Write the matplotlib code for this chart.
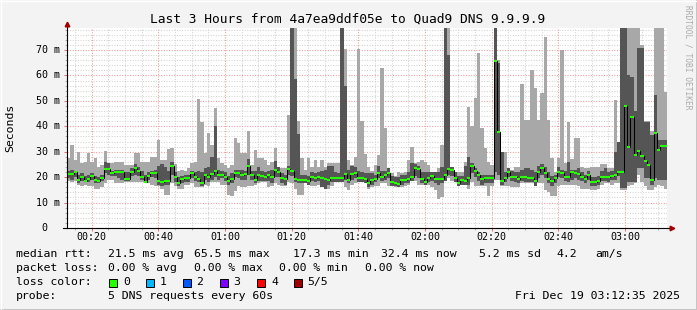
import numpy as np
import matplotlib
matplotlib.use("Agg")
import matplotlib.pyplot as plt
from matplotlib.patches import Rectangle
from matplotlib.lines import Line2D

W, H = 697, 310
start_min = 12 + 35 / 60   # graph starts 00:12:35, one step per minute

# five sorted pings per step (ms): p1 = fastest ... p5 = slowest, p3 = median
ping1 = [
    18.5, 18.0, 18.5, 17.0, 16.5, 17.0, 16.5, 16.5, 15.3, 15.3, 16.0, 17.5, 19.0, 19.0, 17.5, 17.5, 17.5, 18.0, 18.2, 18.2, 18.0, 18.0, 18.0, 17.5, 17.5, 17.0, 16.5, 16.5, 15.5, 13.0,
    13.0, 17.5, 16.5, 15.5, 15.5, 17.0, 17.0, 17.5, 16.0, 16.0, 16.0, 17.0, 16.5, 18.0, 18.0, 18.0, 17.0, 17.0, 13.0, 12.5, 14.5, 16.5, 16.0, 16.0, 16.5, 16.5, 17.0, 17.5, 18.0, 18.0,
    16.0, 16.5, 17.5, 17.0, 16.5, 16.5, 18.0, 17.5, 15.5, 13.0, 13.0, 17.5, 17.5, 16.5, 16.5, 17.0, 17.0, 15.5, 15.5, 16.5, 18.0, 18.0, 18.0, 16.0, 15.0, 17.0, 17.5, 18.0, 18.0, 17.5,
    15.5, 16.0, 16.5, 16.5, 17.5, 17.5, 16.5, 16.5, 16.0, 16.0, 16.0, 16.5, 17.0, 18.5, 18.5, 17.0, 17.0, 17.0, 17.0, 16.0, 15.0, 11.5, 12.0, 18.5, 19.5, 18.5, 18.0, 17.5, 17.5, 17.5,
    15.5, 18.0, 16.5, 16.5, 16.5, 16.5, 12.5, 16.5, 19.0, 19.0, 16.5, 16.5, 16.5, 16.0, 16.0, 16.0, 17.5, 17.5, 17.5, 17.5, 17.5, 17.5, 17.5, 15.0, 14.0, 12.5, 12.5, 16.5, 17.0, 17.0,
    17.0, 17.0, 17.0, 16.5, 15.5, 15.5, 15.5, 15.0, 15.0, 15.5, 17.0, 17.5, 17.5, 17.0, 17.5, 17.5, 15.0, 15.0, 16.5, 17.0, 17.5, 21.0, 18.0, 16.5, 15.0, 15.0, 16.0, 17.0, 16.5, 15.5,
]
ping2 = [
    19.5, 19.0, 20.0, 17.5, 18.5, 18.0, 18.0, 19.0, 17.5, 17.5, 18.5, 21.5, 21.0, 20.5, 20.5, 19.5, 19.0, 18.5, 18.5, 20.5, 21.0, 20.5, 19.0, 17.5, 19.0, 20.0, 19.5, 17.0, 16.5, 17.0,
    17.0, 21.0, 18.0, 16.5, 17.5, 18.0, 18.0, 19.5, 18.5, 18.0, 16.5, 19.0, 18.0, 19.0, 20.0, 19.0, 19.5, 18.5, 17.0, 17.5, 20.0, 19.5, 19.0, 19.0, 21.0, 19.0, 17.5, 18.5, 18.5, 18.5,
    18.5, 17.5, 20.0, 20.0, 17.5, 17.0, 21.0, 20.5, 18.0, 17.5, 17.5, 17.5, 17.0, 18.5, 18.0, 18.5, 16.0, 15.5, 17.0, 18.0, 18.0, 18.0, 18.0, 19.0, 17.5, 19.0, 19.5, 18.0, 18.0, 17.5,
    16.0, 17.0, 18.0, 19.5, 18.5, 19.0, 19.5, 16.5, 16.5, 16.0, 17.0, 17.5, 17.5, 18.5, 20.5, 19.5, 17.5, 17.0, 18.0, 18.5, 17.5, 17.0, 17.5, 18.5, 21.0, 20.5, 18.0, 16.5, 17.0, 17.0,
    17.0, 21.5, 20.0, 18.5, 17.0, 17.5, 17.5, 17.5, 22.0, 21.0, 17.0, 18.0, 20.0, 18.5, 18.0, 17.5, 18.5, 18.0, 18.0, 18.0, 16.5, 19.5, 21.0, 19.5, 17.5, 16.5, 17.5, 20.0, 19.5, 18.5,
    18.0, 19.0, 19.5, 19.0, 18.5, 17.5, 19.0, 16.5, 16.5, 17.0, 18.5, 18.5, 18.0, 19.0, 19.0, 20.5, 15.6, 15.6, 18.0, 18.2, 18.2, 23.5, 23.5, 19.5, 19.5, 16.9, 19.5, 19.0, 19.0, 19.0,
]
median_rtt = [
    21.2, 21.2, 22.1, 18.9, 20.2, 18.6, 19.3, 20.6, 18.9, 18.5, 19.8, 23.2, 23.2, 21.5, 22.1, 22.1, 22.1, 19.3, 19.3, 22.1, 23.5, 22.5, 20.2, 18.2, 20.4, 21.5, 21.5, 18.6, 18.2, 18.4,
    18.5, 24.5, 20.2, 17.6, 19.3, 19.5, 19.5, 21.5, 20.2, 19.3, 17.6, 20.9, 20.2, 21.1, 22.4, 20.9, 20.9, 20.2, 18.5, 19.3, 21.6, 21.5, 20.9, 21.1, 24.5, 20.9, 18.9, 20.9, 20.6, 20.2,
    20.8, 20.2, 22.8, 22.1, 19.5, 19.3, 23.2, 22.4, 19.3, 18.9, 18.9, 18.9, 18.5, 20.2, 19.8, 20.2, 19.5, 19.3, 18.9, 19.8, 19.8, 19.5, 19.8, 21.1, 18.9, 21.1, 21.5, 19.5, 19.8, 19.3,
    17.6, 18.9, 19.3, 21.5, 20.2, 20.9, 21.5, 18.2, 17.6, 17.3, 18.9, 18.9, 19.3, 20.2, 23.7, 23.2, 19.3, 18.2, 19.8, 20.6, 19.3, 19.3, 19.3, 20.9, 23.2, 22.8, 19.8, 17.6, 18.9, 18.5,
    19.8, 24.5, 22.5, 20.9, 19.3, 19.5, 19.8, 19.5, 65.5, 37.9, 18.5, 19.8, 22.1, 20.0, 20.0, 19.3, 20.2, 20.2, 19.8, 19.8, 18.5, 22.1, 23.5, 21.5, 19.3, 18.5, 19.5, 22.1, 21.5, 20.2,
    20.2, 21.9, 21.5, 21.2, 20.2, 19.3, 20.9, 18.0, 18.0, 18.5, 20.2, 20.2, 19.9, 20.6, 20.9, 22.1, 22.1, 48.1, 32.0, 43.8, 28.7, 30.3, 28.5, 26.4, 24.8, 18.9, 37.2, 30.7, 32.4, 32.4,
]
ping4 = [
    22.5, 23.0, 22.5, 21.0, 21.5, 20.5, 21.0, 21.5, 20.5, 20.0, 21.0, 26.0, 25.5, 22.5, 23.0, 23.0, 23.0, 22.0, 22.0, 23.5, 25.0, 24.0, 22.5, 21.0, 22.0, 22.5, 23.0, 24.5, 25.0, 24.0,
    22.5, 26.0, 22.0, 20.0, 20.5, 21.0, 21.0, 22.5, 22.0, 22.5, 22.0, 23.5, 24.0, 28.0, 40.0, 23.0, 22.5, 22.0, 20.5, 21.5, 23.0, 23.0, 23.0, 22.5, 27.0, 22.5, 22.5, 24.0, 22.5, 22.0,
    22.5, 23.0, 26.5, 24.0, 21.5, 21.0, 24.5, 95.0, 58.7, 37.0, 21.0, 21.0, 20.5, 22.0, 21.5, 22.0, 22.5, 23.0, 24.5, 24.5, 22.0, 21.5, 95.0, 56.0, 23.0, 24.5, 24.0, 22.5, 22.0, 21.5,
    21.5, 21.5, 21.0, 24.5, 22.5, 22.5, 23.5, 20.5, 20.0, 20.0, 21.0, 21.0, 22.0, 25.4, 25.0, 24.5, 22.0, 22.0, 22.0, 22.0, 22.0, 22.0, 24.0, 95.0, 68.0, 24.0, 22.0, 20.5, 20.5, 24.5,
    28.0, 25.5, 23.5, 22.0, 21.0, 21.0, 21.0, 21.0, 95.0, 65.0, 30.0, 22.0, 23.5, 22.5, 22.0, 22.0, 23.0, 23.5, 23.5, 23.0, 22.0, 24.5, 25.0, 24.0, 22.0, 20.5, 21.0, 24.0, 23.0, 22.5,
    26.0, 23.0, 23.0, 23.5, 22.0, 21.0, 22.5, 20.0, 20.0, 20.5, 22.5, 23.5, 22.0, 22.5, 30.0, 34.0, 95.0, 95.0, 60.0, 59.5, 46.0, 70.7, 70.7, 41.8, 41.8, 36.6, 52.3, 34.5, 34.5, 34.5,
]
ping5 = [
    27.4, 32.7, 26.8, 30.0, 25.4, 26.1, 29.4, 26.1, 27.4, 24.1, 24.8, 30.3, 25.4, 25.4, 26.1, 26.1, 26.1, 24.8, 24.8, 24.8, 29.4, 29.4, 26.1, 26.1, 26.1, 28.0, 28.0, 34.6, 26.8, 26.8,
    31.0, 31.5, 25.0, 22.5, 23.0, 22.5, 23.5, 25.5, 26.0, 50.8, 41.8, 29.5, 37.2, 32.7, 47.1, 27.4, 25.5, 24.8, 23.5, 24.8, 35.3, 33.3, 29.5, 29.5, 38.2, 24.8, 30.7, 27.4, 27.4, 26.8,
    24.8, 26.1, 31.3, 24.1, 23.5, 23.5, 44.5, 95.0, 95.0, 42.0, 27.4, 22.8, 27.4, 24.1, 26.8, 24.1, 26.8, 24.1, 25.4, 25.4, 25.4, 25.4, 95.0, 70.5, 26.8, 24.8, 28.0, 70.4, 42.0, 29.0,
    24.0, 22.5, 24.8, 28.7, 63.1, 39.2, 22.2, 21.5, 20.5, 22.2, 21.5, 22.2, 26.8, 32.0, 25.4, 26.0, 26.8, 26.0, 24.8, 22.2, 22.2, 23.5, 32.6, 95.0, 95.0, 23.5, 20.9, 22.2, 22.2, 26.0,
    47.7, 40.0, 51.0, 68.7, 39.2, 31.3, 26.1, 24.8, 95.0, 66.0, 28.0, 30.0, 22.8, 22.8, 24.1, 24.1, 56.5, 42.5, 42.5, 62.2, 55.0, 42.5, 53.0, 75.3, 42.5, 27.4, 22.2, 27.4, 70.0, 25.4,
    41.8, 27.0, 35.3, 35.3, 24.0, 23.5, 23.5, 24.0, 24.0, 24.0, 25.0, 25.0, 23.5, 23.5, 50.4, 34.0, 95.0, 95.0, 95.0, 95.0, 95.0, 95.0, 72.0, 42.0, 42.0, 38.0, 95.0, 95.0, 95.0, 53.6,
]

loss_labels = ["0", "1", "2", "3", "4", "5/5"]
loss_colors = ["#26ff00", "#00b8ff", "#0059ff", "#7e00ff", "#ff0000", "#a00000"]

plt.rcParams['font.family'] = 'DejaVu Sans Mono'


def px(x):
    return x / W


def py(y):
    return 1 - y / H


med = np.array(median_rtt)
lo2 = np.minimum(np.array(ping2), med)
hi2 = np.maximum(np.array(ping4), med)
lo1 = np.minimum(np.array(ping1), lo2)
hi1 = np.maximum(np.array(ping5), hi2)
t = start_min + np.arange(len(med))

fig = plt.figure(figsize=(W / 100, H / 100), dpi=100, facecolor='#f3f3f3')
ax = fig.add_axes([px(67), py(228), 600 / W, 200 / H])
ax.set_facecolor('white')
ax.set_xlim(start_min, start_min + len(med))
ax.set_ylim(0, 78.65)

# smoke
ax.bar(t, hi1 - lo1, bottom=lo1, width=1, align='edge', color='#a8a8a8',
       linewidth=0, antialiased=False, zorder=2)
ax.bar(t, hi2 - lo2, bottom=lo2, width=1, align='edge', color='#555555',
       linewidth=0, antialiased=False, zorder=3)
# median
ax.step(np.append(t, t[-1] + 1), np.append(med, med[-1]), where='post',
        color='black', lw=0.75, zorder=4)
ax.hlines(med, t, t + 1, colors=loss_colors[0], lw=1.5, zorder=5)

# grid
majors_x = np.arange(20, 181, 20)
ax.set_xticks(majors_x, [f"{m // 60:02d}:{m % 60:02d}" for m in majors_x])
ax.set_xticks(np.arange(15, 195, 5), minor=True)
ax.set_yticks(np.arange(0, 71, 10), [''] * 8)
ax.set_yticks(np.arange(0, 79, 2), minor=True)
ax.set_axisbelow(True)
ax.grid(which='major', color='#f09a9a', lw=0.75, ls=(0, (1, 1.5)))
ax.grid(which='minor', color='#d2d2d2', lw=0.75, ls=(0, (1, 1.5)))
ax.tick_params(which='major', length=2.2, width=0.75, color='#e07070',
               labelsize=7.2, pad=0.8)
ax.tick_params(which='minor', length=1.5, width=0.75, color='#b0b0b0')
for s in ax.spines.values():
    s.set_visible(False)

# axes with arrows
ax.plot([0, 0], [0, 1 + 3 / 200], transform=ax.transAxes, color='black',
        lw=0.8, clip_on=False, zorder=6)
ax.plot([-4 / 600, 1 + 3 / 600], [0, 0], transform=ax.transAxes, color='black',
        lw=0.8, clip_on=False, zorder=6)
ax.plot(0, 1 + 4 / 200, marker='^', ms=3.3, color='#a00000',
        transform=ax.transAxes, clip_on=False, zorder=7)
ax.plot(1 + 4.5 / 600, 0, marker='>', ms=3.3, color='#a00000',
        transform=ax.transAxes, clip_on=False, zorder=7)

# y labels
for v in range(0, 71, 10):
    if v:
        ax.text(-7 / 600, v, f"{v} m", transform=ax.get_yaxis_transform(),
                ha='right', va='center', fontsize=7.2)
    else:
        ax.text(-19.2 / 600, v, "0", transform=ax.get_yaxis_transform(),
                ha='right', va='center', fontsize=7.2)

fig.text(px(10), py(128), "Seconds", rotation=90, ha='center', va='center', fontsize=8.25)
fig.text(px(348), py(19), "Last 3 Hours from 4a7ea9ddf05e to Quad9 DNS 9.9.9.9",
         ha='center', va='center', fontsize=9.3)
fig.text(px(688), py(5), "RRDTOOL / TOBI OETIKER", rotation=270, ha='center',
         va='top', fontsize=5.7, color='#aaaaaa')

# legend
def legend(x, y, s, **kw):
    fig.text(px(x), py(y), s, ha=kw.pop('ha', 'left'), va='center', fontsize=8.25, **kw)


legend(16, 254, "median rtt:")
legend(107.6, 254, "21.5 ms avg")
legend(194, 254, "65.5 ms max")
legend(293, 254, "17.3 ms min")
legend(381, 254, "32.4 ms now")
legend(479, 254, "5.2 ms sd")
legend(556, 254, "4.2")
legend(595, 254, "am/s")

legend(16, 268, "packet loss:")
legend(107.6, 268, "0.00 % avg")
legend(194, 268, "0.00 % max")
legend(279, 268, "0.00 % min")
legend(365, 268, "0.00 % now")

legend(16, 282, "loss color:")
box_x = [109, 145.5, 182.5, 219.5, 257, 293.5]
for bx, lab, col in zip(box_x, loss_labels, loss_colors):
    fig.add_artist(Rectangle((px(bx), py(286.5)), 8 / W, 8 / H, transform=fig.transFigure,
                             facecolor=col, edgecolor='black', lw=0.7))
    legend(bx + 14, 282, lab)

legend(16, 296, "probe:")
legend(107.6, 296, "5 DNS requests every 60s")
legend(680, 296, "Fri Dec 19 03:12:35 2025", ha='right')

# frame
fig.add_artist(Line2D([px(696.5)] * 2, [0, 1], color='#c4c4c4', lw=1.4))
fig.add_artist(Line2D([0, 1], [py(309.5)] * 2, color='#c4c4c4', lw=1.4))
fig.add_artist(Line2D([px(0.5)] * 2, [0, 1], color='#ffffff', lw=1))
fig.add_artist(Line2D([0, 1], [py(0.5)] * 2, color='#ffffff', lw=1))

fig.savefig("out.png", dpi=100, facecolor=fig.get_facecolor())
